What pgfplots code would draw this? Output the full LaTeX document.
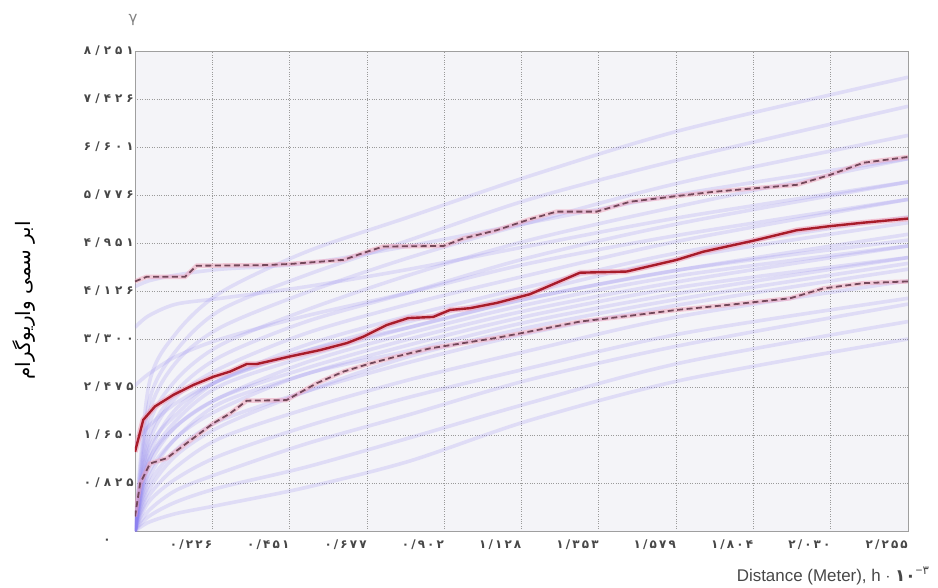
\documentclass[border=0pt]{standalone}
\usepackage{fontspec}
\setmainfont{Liberation Sans}
\newfontfamily\fa[Script=Arabic]{DejaVu Sans}
\newfontfamily\fax[Script=Arabic, LetterSpace=18]{DejaVu Sans}
\newfontfamily\fay[Script=Arabic, LetterSpace=34]{DejaVu Sans}
\TeXXeTstate=1
\usepackage{pgfplots}
\usepackage{pgfplotstable}
\pgfplotsset{compat=1.18}
\definecolor{redline}{HTML}{A81C2A}
\definecolor{dashline}{HTML}{74485A}
\definecolor{halo}{HTML}{F0A0B8}
\definecolor{cloud}{RGB}{140,128,240}
\definecolor{bgfill}{HTML}{F4F4F8}
\definecolor{gridc}{HTML}{9A9A9A}
\definecolor{labc}{HTML}{474747}

\pgfplotstableread{
x     c1   c2   c3   c4   c5   c6   c7   c8   c9   c10  c11  c12  c13  c14  c15  c16  c17  c18  c19  c20  c21  c22  c23  c24
0     0    0    0    0    0    0    0    0    0    0    0    0    0    0    0    0    0    0    0    0    3.5  4.2  2.5  1.5
0.04  0.15 0.25 0.35 0.5  0.6  0.8  0.9  1.1  1.2  1.3  1.5  1.6  1.8  2.0  2.2  2.5  1.2  1.0  1.4  0.7  3.7  4.3  2.7  1.8
0.12  0.3  0.5  0.7  0.9  1.1  1.4  1.6  1.8  1.9  2.1  2.3  2.4  2.6  2.9  3.1  3.4  1.8  1.6  2.0  1.3  3.9  4.4  3.0  2.2
0.25  0.45 0.75 1.0  1.3  1.6  1.9  2.1  2.3  2.5  2.6  2.8  3.0  3.2  3.5  3.8  4.1  2.3  2.2  2.6  1.8  4.0  4.5  3.3  2.6
0.5   0.75 1.1  1.5  1.8  2.1  2.4  2.7  2.8  3.0  3.2  3.4  3.6  3.8  4.1  4.4  4.8  2.9  2.7  3.1  2.4  4.2  4.6  3.7  3.1
0.8   1.2  1.6  2.0  2.3  2.6  2.9  3.1  3.3  3.5  3.7  3.9  4.1  4.4  4.7  5.0  5.4  3.4  3.2  3.6  3.0  4.5  4.9  4.1  3.5
1.15  1.9  2.2  2.6  2.8  3.1  3.4  3.6  3.8  4.0  4.2  4.4  4.7  5.0  5.3  5.7  6.1  3.9  3.7  4.1  3.5  4.9  5.3  4.6  4.0
1.6   2.6  2.9  3.2  3.4  3.7  3.9  4.1  4.3  4.5  4.8  5.0  5.3  5.6  6.0  6.4  6.9  4.4  4.2  4.7  4.0  5.4  5.8  5.1  4.5
2.255 3.3  3.6  3.9  4.0  4.3  4.5  4.7  4.9  5.1  5.4  5.7  6.0  6.4  6.8  7.3  7.8  4.9  4.7  5.3  4.6  6.0  6.4  5.7  5.0
}\bgdata

\pgfplotstableread{
x y
0 1.36
0.024 1.91
0.058 2.14
0.112 2.34
0.170 2.51
0.228 2.65
0.277 2.74
0.326 2.87
0.355 2.87
0.452 3.00
0.540 3.11
0.618 3.23
0.666 3.34
0.734 3.54
0.797 3.66
0.870 3.68
0.919 3.80
0.977 3.83
1.055 3.92
1.152 4.07
1.298 4.44
1.434 4.46
1.580 4.66
1.657 4.80
1.804 4.99
1.930 5.17
2.027 5.24
2.125 5.30
2.255 5.37
}\meandata

\pgfplotstableread{
x y
0 4.29
0.034 4.37
0.146 4.37
0.180 4.56
0.374 4.57
0.452 4.59
0.608 4.66
0.666 4.78
0.724 4.89
0.900 4.90
0.958 5.03
1.055 5.17
1.152 5.36
1.230 5.49
1.347 5.49
1.444 5.66
1.570 5.75
1.687 5.83
1.804 5.89
1.930 5.95
2.027 6.12
2.125 6.33
2.255 6.43
}\upperdata

\pgfplotstableread{
x y
0 0.25
0.015 0.82
0.044 1.16
0.092 1.25
0.151 1.51
0.228 1.85
0.277 2.02
0.326 2.24
0.442 2.25
0.530 2.54
0.608 2.74
0.686 2.88
0.763 3.00
0.861 3.14
0.958 3.23
1.055 3.32
1.152 3.43
1.298 3.60
1.444 3.70
1.580 3.80
1.736 3.89
1.911 4.00
2.008 4.17
2.125 4.26
2.255 4.29
}\lowerdata

\begin{document}
\begin{tikzpicture}
\path[use as bounding box] (-135bp,-57bp) rectangle (803bp,531bp);
\begin{axis}[
  at={(0,0)}, anchor=south west,
  width=773bp, height=480bp, scale only axis,
  xmin=0, xmax=2.255, ymin=0, ymax=8.251,
  axis background/.style={fill=bgfill},
  axis line style={gray!75, line width=0.8pt},
  major tick length=0pt,
  xtick={0.2255,0.451,0.6765,0.902,1.1275,1.353,1.5785,1.804,2.0295,2.255},
  xticklabels={۰/۲۲۶,۰/۴۵۱,۰/۶۷۷,۰/۹۰۲,۱/۱۲۸,۱/۳۵۳,۱/۵۷۹,۱/۸۰۴,۲/۰۳۰,۲/۲۵۵},
  ytick={0.8251,1.6502,2.4753,3.3004,4.1255,4.9506,5.7757,6.6008,7.4259,8.251},
  yticklabels={۰/۸۲۵,۱/۶۵۰,۲/۴۷۵,۳/۳۰۰,۴/۱۲۶,۴/۹۵۱,۵/۷۷۶,۶/۶۰۱,۷/۴۲۶,۸/۲۵۱},
  xticklabel style={font=\fax\fontsize{12}{13}\selectfont\bfseries, text=labc, anchor=north east, inner xsep=0pt, yshift=-5bp},
  yticklabel style={font=\fay\fontsize{12}{13}\selectfont\bfseries, text=labc, inner xsep=0pt, xshift=-1bp},
  grid=major,
  grid style={gridc, dotted, line width=0.7pt},
  xlabel={Distance (Meter), h $\cdot$ {\fa\fontsize{17}{18}\selectfont\bfseries ۱۰}\textsuperscript{−{\fa ۳}}},
  xlabel style={at={(axis description cs:1,0)}, anchor=base east, xshift=25bp, yshift=-50bp, font=\fontsize{17}{19}\selectfont, text=labc},
  ylabel={\fa\beginR ابر سمی واریوگرام\endR},
  ylabel style={at={(axis description cs:-0.143,0.48)}, anchor=center, font=\fontsize{20}{22}\selectfont, text=black},
  clip=true,
]
\pgfplotsinvokeforeach{1,...,24}{
  \addplot[cloud, opacity=0.2, line width=3.6pt, smooth, forget plot] table[x=x, y=c#1] {\bgdata};
}
\addplot[halo, opacity=0.5, line width=4.5pt] table {\upperdata};
\addplot[halo, opacity=0.5, line width=4.5pt] table {\lowerdata};
\addplot[halo, opacity=0.6, line width=5.5pt] table {\meandata};
\addplot[dashline, line width=1.8pt, dash pattern=on 6pt off 3.5pt] table {\upperdata};
\addplot[dashline, line width=1.8pt, dash pattern=on 6pt off 3.5pt] table {\lowerdata};
\addplot[redline, line width=2.4pt, line join=round] table {\meandata};
\end{axis}
\node[font=\fa\fontsize{12}{13}\selectfont\bfseries, text=labc] at (-28bp,-10bp) {۰};
\node[font=\fa\fontsize{15}{16}\selectfont, text=gray] at (-2bp,511bp) {γ};
\end{tikzpicture}
\end{document}
